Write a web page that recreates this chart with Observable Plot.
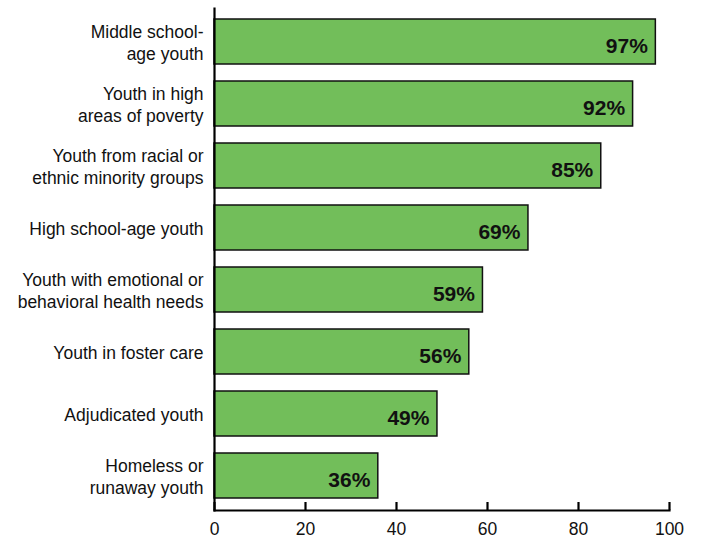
<!DOCTYPE html>
<html>
<head>
<meta charset="utf-8">
<script src="https://cdn.jsdelivr.net/npm/d3@7"></script>
<script src="https://cdn.jsdelivr.net/npm/@observablehq/plot@0.6"></script>
<style>
  html, body { margin: 0; padding: 0; background: #fff; }
  #chart svg { display: block; }
</style>
</head>
<body>
<div id="chart"></div>
<script>
const categories = [
  "Middle school-\nage youth",
  "Youth in high\nareas of poverty",
  "Youth from racial or\nethnic minority groups",
  "High school-age youth",
  "Youth with emotional or\nbehavioral health needs",
  "Youth in foster care",
  "Adjudicated youth",
  "Homeless or\nrunaway youth"
];
const values = [97, 92, 85, 69, 59, 56, 49, 36];
const xTicks = [0, 20, 40, 60, 80, 100];

const data = categories.map((c, i) => ({category: c, value: values[i]}));

const chart = Plot.plot({
  width: 701,
  height: 538,
  marginLeft: 214,
  marginRight: 32,
  marginTop: 8,
  marginBottom: 28,
  style: {fontFamily: "'Liberation Sans', Arial, sans-serif", color: "#000", background: "#fff"},
  x: {domain: [0, 100], ticks: xTicks, label: null},
  y: {domain: categories, paddingInner: 0.27, paddingOuter: 0.12, axis: null},
  marks: [
    Plot.barX(data, {x: "value", y: "category", fill: "#72be5a", stroke: "#111", strokeWidth: 1.5}),
    Plot.text(data, {x: "value", y: "category", text: d => d.value + "%", textAnchor: "end", dx: -8, dy: 4, fontSize: 21, fontWeight: "bold", fill: "#111"}),
    Plot.text(data, {y: "category", text: "category", frameAnchor: "left", textAnchor: "end", dx: -11, dy: 0, fontSize: 17.5, lineHeight: 1.22, fill: "#111"}),
    Plot.frame({anchor: "left", stroke: "#000", strokeWidth: 2.2}),
    Plot.frame({anchor: "bottom", stroke: "#000", strokeWidth: 2.2}),
    Plot.axisX(xTicks, {tickSize: -8, tickFormat: () => "", strokeWidth: 2.2, stroke: "#000", label: null}),
    Plot.axisX(xTicks, {tickSize: 0, tickPadding: 12, fontSize: 17.5, fill: "#111", label: null})
  ]
});
document.getElementById("chart").appendChild(chart);
</script>
</body>
</html>
